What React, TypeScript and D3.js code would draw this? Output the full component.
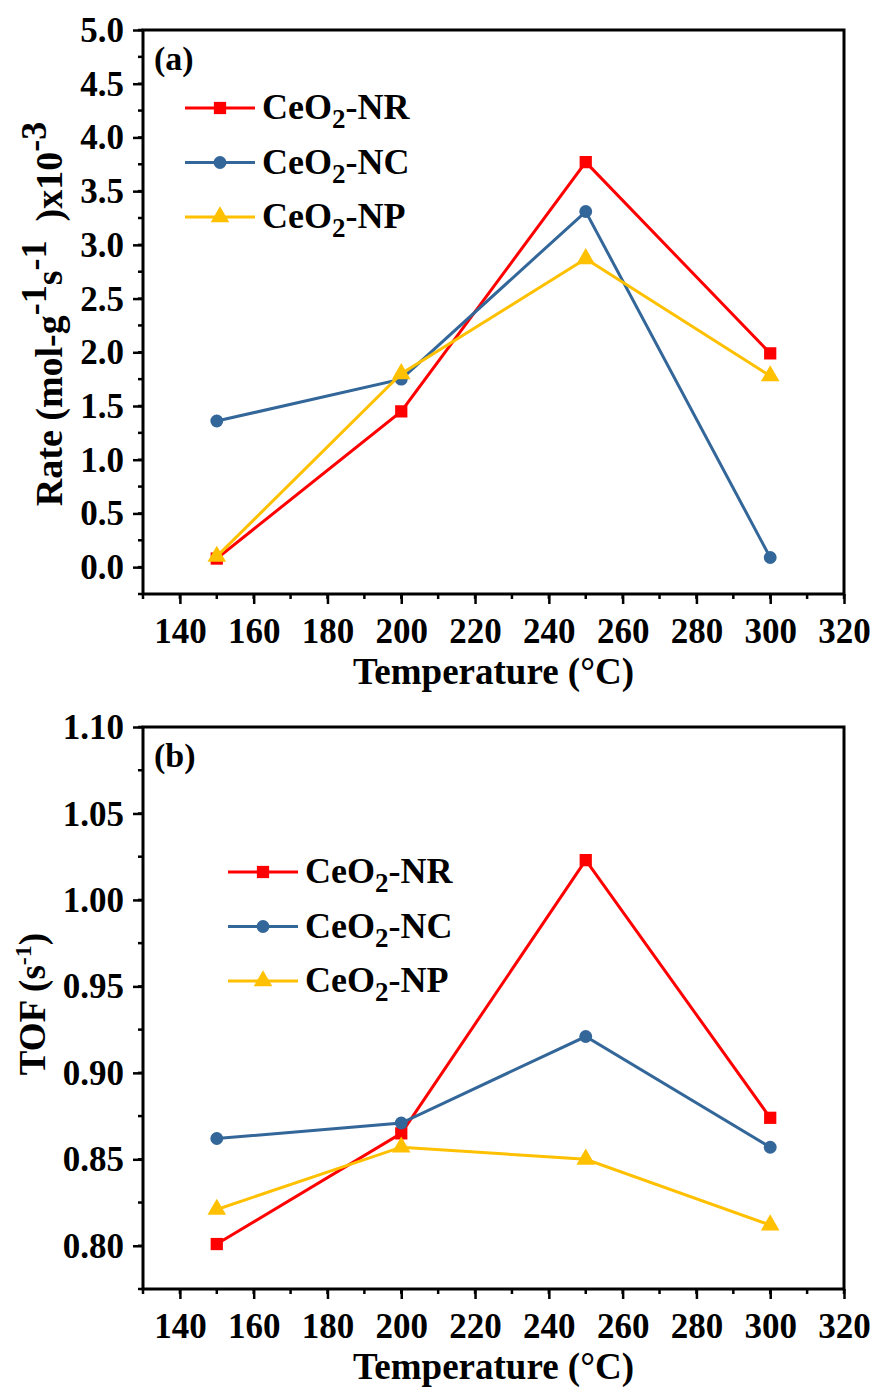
import React, { useEffect, useRef } from 'react';
import * as d3 from 'd3';

const temps = [150, 200, 250, 300];
const seriesNames = ['NR', 'NC', 'NP'];
const seriesColors = ['#FF0000', '#336699', '#FFC000'];
const seriesShapes = ['square', 'circle', 'triangle'];

// panel (a): rate, x10^-3 mol g-1 s-1
const rateNR = [0.08, 1.45, 3.77, 1.99];
const rateNC = [1.36, 1.75, 3.31, 0.09];
const rateNP = [0.10, 1.80, 2.87, 1.78];
const rateTicks = [0, 0.5, 1, 1.5, 2, 2.5, 3, 3.5, 4, 4.5, 5];

// panel (b): TOF, s-1
const tofNR = [0.801, 0.865, 1.023, 0.874];
const tofNC = [0.862, 0.871, 0.921, 0.857];
const tofNP = [0.821, 0.857, 0.850, 0.812];
const tofTicks = [0.8, 0.85, 0.9, 0.95, 1.0, 1.05, 1.1];

const xTicks = [140, 160, 180, 200, 220, 240, 260, 280, 300, 320];

const FONT = '"Liberation Serif", "Times New Roman", serif';

function drawPanel(svg, opts) {
    const { top, bottom, yDomain, yTicks, yFormat, data, tag, legendX, legendY, legendGap } = opts;
    const left = 143, right = 844;

    const x = d3.scaleLinear().domain([130, 320]).range([left, right]);
    const y = d3.scaleLinear().domain(yDomain).range([bottom, top]);

    const g = svg.append('g');

    // minor ticks
    const yStep = yTicks[1] - yTicks[0];
    const yMinorVals = [];
    for (let v = yTicks[0] - yStep / 2; v <= yDomain[1] + 1e-9; v += yStep / 2) {
        if (v >= yDomain[0] - 1e-9) yMinorVals.push(v);
    }
    g.selectAll('.yminor').data(yMinorVals).enter().append('line')
        .attr('x1', left - 5).attr('x2', left)
        .attr('y1', d => y(d)).attr('y2', d => y(d))
        .attr('stroke', '#000').attr('stroke-width', 2.5);

    const yMajor = d3.axisLeft(y).tickValues(yTicks).tickSize(10).tickPadding(9)
        .tickFormat(yFormat);
    g.append('g').attr('transform', `translate(${left},0)`).call(yMajor)
        .call(a => a.select('.domain').remove())
        .call(a => a.selectAll('.tick line').attr('stroke-width', 2.5))
        .call(a => a.selectAll('.tick text')
            .attr('font-family', FONT).attr('font-weight', 'bold')
            .attr('font-size', 35).attr('fill', '#000').attr('dy', '0.33em'));

    const xMinorVals = d3.range(130, 321, 10);
    g.selectAll('.xminor').data(xMinorVals).enter().append('line')
        .attr('x1', d => x(d)).attr('x2', d => x(d))
        .attr('y1', bottom).attr('y2', bottom + 5)
        .attr('stroke', '#000').attr('stroke-width', 2.5);

    const xMajor = d3.axisBottom(x).tickValues(xTicks).tickSize(10).tickPadding(14)
        .tickFormat(d3.format('d'));
    g.append('g').attr('transform', `translate(0,${bottom})`).call(xMajor)
        .call(a => a.select('.domain').remove())
        .call(a => a.selectAll('.tick line').attr('stroke-width', 2.5))
        .call(a => a.selectAll('.tick text')
            .attr('font-family', FONT).attr('font-weight', 'bold')
            .attr('font-size', 35).attr('fill', '#000'));

    // frame
    g.append('rect')
        .attr('x', left).attr('y', top)
        .attr('width', right - left).attr('height', bottom - top)
        .attr('fill', 'none').attr('stroke', '#000').attr('stroke-width', 3);

    const line = d3.line().x((d, i) => x(temps[i])).y(d => y(d));

    const sym = {
        square: d3.symbol().type(d3.symbolSquare).size(150),
        circle: d3.symbol().type(d3.symbolCircle).size(130),
        triangle: d3.symbol().type(d3.symbolTriangle).size(150),
    };

    data.forEach((vals, si) => {
        g.append('path').datum(vals)
            .attr('d', line)
            .attr('fill', 'none')
            .attr('stroke', seriesColors[si])
            .attr('stroke-width', 3);
        g.selectAll('.m' + si).data(vals).enter().append('path')
            .attr('d', sym[seriesShapes[si]])
            .attr('transform', (d, i) => `translate(${x(temps[i])},${y(d)})`)
            .attr('fill', seriesColors[si]);
    });

    // legend
    seriesNames.forEach((name, si) => {
        const ly = legendY + si * legendGap;
        g.append('line')
            .attr('x1', legendX).attr('x2', legendX + 70)
            .attr('y1', ly).attr('y2', ly)
            .attr('stroke', seriesColors[si]).attr('stroke-width', 3);
        g.append('path')
            .attr('d', sym[seriesShapes[si]])
            .attr('transform', `translate(${legendX + 35},${ly})`)
            .attr('fill', seriesColors[si]);
        const t = g.append('text')
            .attr('x', legendX + 77).attr('y', ly + 11)
            .attr('font-family', FONT).attr('font-weight', 'bold')
            .attr('font-size', 36).attr('fill', '#000');
        t.append('tspan').text('CeO');
        t.append('tspan').text('2').attr('font-size', 27).attr('dy', 9);
        t.append('tspan').text('-' + name).attr('dy', -9);
    });

    g.append('text')
        .attr('x', left + 11).attr('y', top + 40)
        .attr('font-family', FONT).attr('font-weight', 'bold')
        .attr('font-size', 34).attr('fill', '#000')
        .text(tag);

    g.append('text')
        .attr('x', (left + right) / 2).attr('y', bottom + 90)
        .attr('text-anchor', 'middle')
        .attr('font-family', FONT).attr('font-weight', 'bold')
        .attr('font-size', 37).attr('fill', '#000')
        .text('Temperature (\u00B0C)');

    return { x, y };
}

export default function App() {
    const ref = useRef(null);

    useEffect(() => {
        const svg = d3.select(ref.current);
        svg.selectAll('*').remove();

        drawPanel(svg, {
            top: 30, bottom: 594, yDomain: [-0.25, 5.0], yTicks: rateTicks,
            yFormat: d3.format('.1f'), data: [rateNR, rateNC, rateNP], tag: '(a)',
            legendX: 185, legendY: 108, legendGap: 54.5,
        });
        drawPanel(svg, {
            top: 727, bottom: 1289, yDomain: [0.775, 1.10], yTicks: tofTicks,
            yFormat: d3.format('.2f'), data: [tofNR, tofNC, tofNP], tag: '(b)',
            legendX: 228, legendY: 872, legendGap: 54.5,
        });

        // y titles
        const ta = svg.append('text')
            .attr('transform', 'translate(62,314) rotate(-90)')
            .attr('text-anchor', 'middle')
            .attr('font-family', FONT).attr('font-weight', 'bold')
            .attr('font-size', 38).attr('fill', '#000');
        ta.append('tspan').text('Rate (mol-g');
        ta.append('tspan').text('-1').attr('font-size', 36).attr('dy', -16);
        ta.append('tspan').text('s').attr('dy', 16);
        ta.append('tspan').text('-1').attr('font-size', 36).attr('dy', -16);
        ta.append('tspan').text('\u00A0\u00A0)x10').attr('dy', 16);
        ta.append('tspan').text('-3').attr('font-size', 36).attr('dy', -16);

        const tb = svg.append('text')
            .attr('transform', 'translate(45,1004) rotate(-90)')
            .attr('text-anchor', 'middle')
            .attr('font-family', FONT).attr('font-weight', 'bold')
            .attr('font-size', 37).attr('fill', '#000');
        tb.append('tspan').text('TOF (s');
        tb.append('tspan').text('-1').attr('font-size', 24).attr('dy', -14);
        tb.append('tspan').text(')').attr('dy', 14);
    }, []);

    return (
        <svg ref={ref} width={875} height={1388}
            style={{ position: 'absolute', left: 0, top: 0, background: '#fff' }} />
    );
}
